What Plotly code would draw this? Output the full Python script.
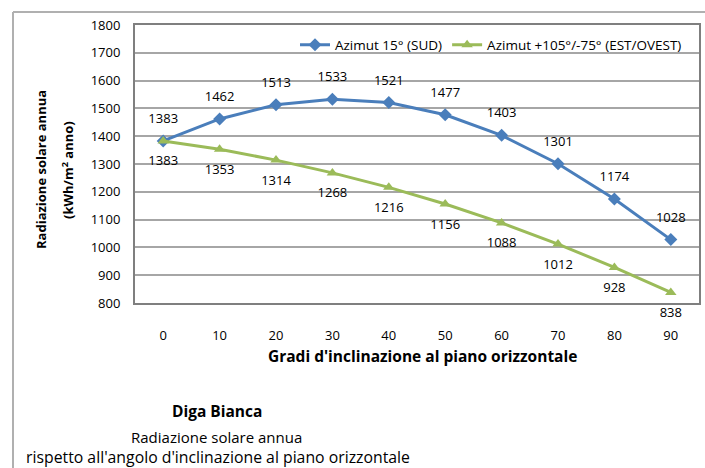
import plotly.graph_objects as go

angles = [0, 10, 20, 30, 40, 50, 60, 70, 80, 90]
sud = [1383, 1462, 1513, 1533, 1521, 1477, 1403, 1301, 1174, 1028]
est_ovest = [1383, 1353, 1314, 1268, 1216, 1156, 1088, 1012, 928, 838]
y_ticks = list(range(800, 1801, 100))

FONT = "Open Sans"
BLUE = "#4a7ebb"
GREEN = "#9bbb59"

fig = go.Figure()
fig.add_trace(go.Scatter(
    x=angles, y=sud, mode="lines+markers", name="Azimut 15° (SUD)",
    line=dict(color=BLUE, width=3), marker=dict(symbol="diamond", size=10, color=BLUE),
    hoverinfo="x+y",
))
fig.add_trace(go.Scatter(
    x=angles, y=est_ovest, mode="lines+markers", name="Azimut +105°/-75° (EST/OVEST)",
    line=dict(color=GREEN, width=3), marker=dict(symbol="triangle-up", size=10, color=GREEN),
    hoverinfo="x+y",
))
# data labels (transparent markers set the label offset)
fig.add_trace(go.Scatter(
    x=angles, y=sud, mode="markers+text", showlegend=False, hoverinfo="skip",
    marker=dict(size=22, color="rgba(0,0,0,0)"),
    text=[str(v) for v in sud], textposition="top center",
    textfont=dict(family=FONT, size=13, color="black"), cliponaxis=False,
))
fig.add_trace(go.Scatter(
    x=angles, y=est_ovest, mode="markers+text", showlegend=False, hoverinfo="skip",
    marker=dict(size=22, color="rgba(0,0,0,0)"),
    text=[str(v) for v in est_ovest], textposition="bottom center",
    textfont=dict(family=FONT, size=13, color="black"), cliponaxis=False,
))

L, R, T, B = 135, 6, 25, 165
W, H = 705, 468
pw, ph = W - L - R, H - T - B

def px(x):
    return (x - L) / pw

def py(y):
    return (H - B - y) / ph

fig.update_layout(
    width=W, height=H,
    margin=dict(l=L, r=R, t=T, b=B, autoexpand=False),
    paper_bgcolor="white", plot_bgcolor="white",
    font=dict(family=FONT, size=11, color="black"),
    showlegend=True,
    legend=dict(orientation="h", x=px(295), y=py(45), xanchor="left", yanchor="middle",
                bgcolor="rgba(0,0,0,0)", font=dict(family=FONT, size=13.5), itemwidth=30),
    xaxis=dict(range=[-5, 95], tickvals=angles, ticktext=[str(a) for a in angles],
               showgrid=False, zeroline=False, showline=True, linecolor="#7f7f7f", linewidth=2,
               mirror=True, ticks="", ticklabelstandoff=19, tickfont=dict(size=13)),
    yaxis=dict(range=[800, 1800], tickvals=y_ticks, showgrid=True, gridcolor="#a6a6a6",
               gridwidth=1.5, zeroline=False, showline=True, linecolor="#7f7f7f", linewidth=2,
               mirror=True, ticks="", ticklabelstandoff=10, tickfont=dict(size=13)),
)

def note(x, y, text, size, angle=0):
    fig.add_annotation(x=px(x), y=py(y), xref="paper", yref="paper", textangle=angle,
                       text=text, showarrow=False, font=dict(size=size),
                       xanchor="center", yanchor="middle")

note(422, 356, "<b>Gradi d'inclinazione al piano orizzontale</b>", 15.5)
note(41, 170, "<b>Radiazione solare annua</b>", 13, -90)
note(67, 170, "<b>(kWh/m<sup>2</sup> anno)</b>", 13, -90)
note(217, 411, "<b>Diga Bianca</b>", 15.5)
note(216, 437, "Radiazione solare annua", 15)
note(218, 457, "rispetto all'angolo d'inclinazione al piano orizzontale", 15.8)

fig.add_shape(type="line", xref="paper", yref="paper",
              x0=px(13), x1=px(13), y0=py(H + 2), y1=py(12),
              line=dict(color="#b0b0b0", width=2))
fig.add_shape(type="line", xref="paper", yref="paper",
              x0=px(13), x1=px(W + 2), y0=py(12), y1=py(12),
              line=dict(color="#b0b0b0", width=2))

fig.write_html("out.html", config={"displayModeBar": False},
               post_script="document.body.style.margin='0';")
